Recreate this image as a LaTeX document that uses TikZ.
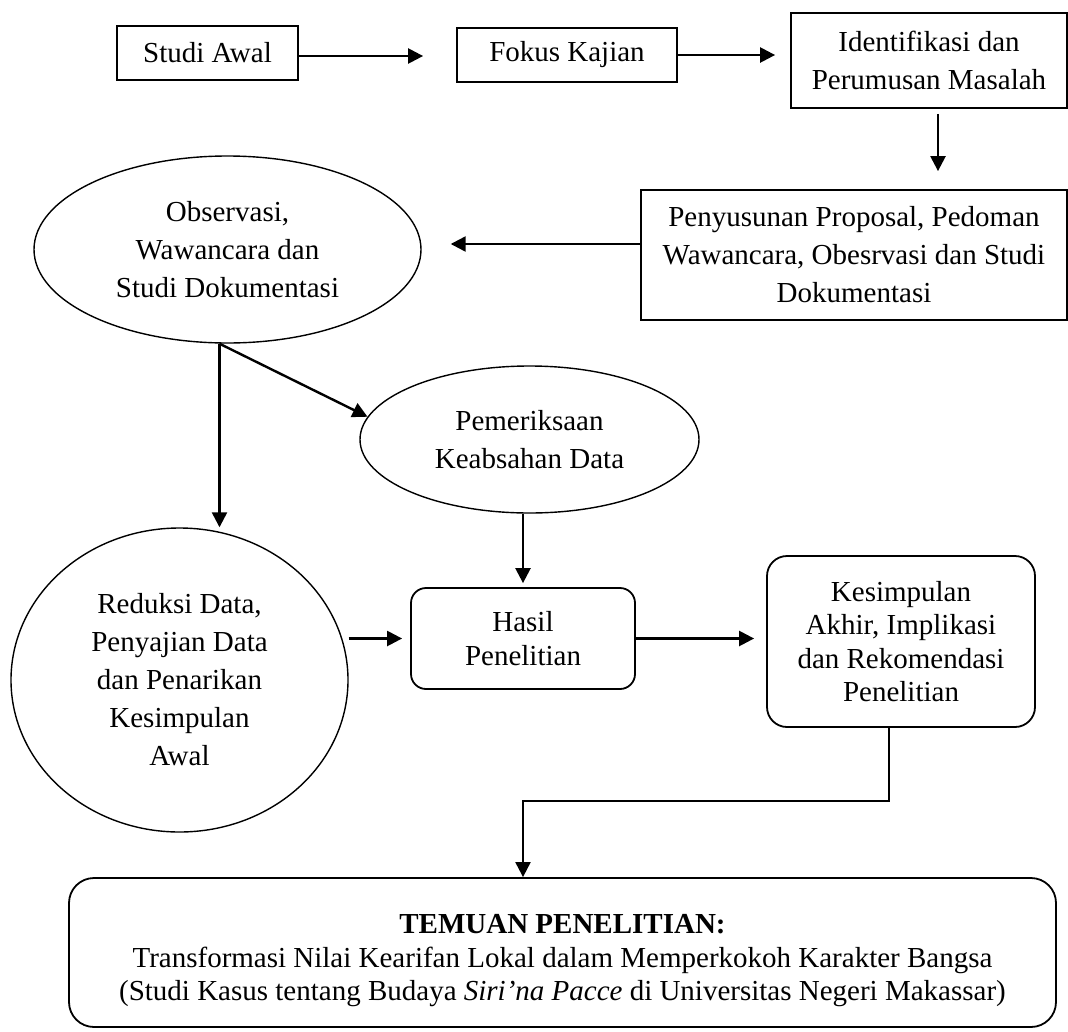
\documentclass[tikz,border=0pt]{standalone}
\usepackage{fontspec}
\setmainfont{Liberation Serif}
\usetikzlibrary{shapes,arrows.meta,calc}

\begin{document}
\begin{tikzpicture} [x=1pt, y=-1pt,
				plain/.style={
				% The shape:
				rectangle,
				% The size:
      				inner sep=0pt,
				% The border:
      				line width=1.8pt,
     				 draw=black,
				% Font
				font=\fontsize{29}{38}\selectfont
    				},
				soft/.style={
				% The shape:
				rectangle, rounded corners=15pt,
				% The size:
      				inner sep=0pt,
				% The border:
      				line width=1.8pt,draw=black,
				% Font
				font=\fontsize{29}{33.4}\selectfont
    				},
				oval/.style={
				% The shape:
				ellipse,
				% The size:
      				inner sep=0pt,
				% The border:
      				line width=1.4pt,draw=black,
				% Font
				font=\fontsize{29}{38}\selectfont
    				},
				link/.style={
				line width=2.4pt,
				-{Triangle[length=15pt,width=15pt]}
    				},
				]
    \tikzstyle{every node} = [align=center]
    \useasboundingbox (0,0) rectangle (1068,1031);
    % top row
    \node [plain, minimum width=181pt, minimum height=54pt] (studi) at (207.5,53) {Studi Awal};
    \node [plain, minimum width=220pt, minimum height=54pt] (fokus) at (567,55) {Fokus Kajian};
    \node [plain, minimum width=276pt, minimum height=95pt] (ident) at (929,60.5) {Identifikasi dan\\Perumusan Masalah};
    % second row
    \node [plain, minimum width=426pt, minimum height=130pt] (penyus) at (854,255) {Penyusunan Proposal, Pedoman\\Wawancara, Obesrvasi dan Studi\\Dokumentasi};
    \node [oval, minimum width=387pt, minimum height=187pt] (obs) at (227.5,249.5) {Observasi,\\Wawancara dan\\Studi Dokumentasi};
    \node [oval, minimum width=339pt, minimum height=147pt] (perik) at (529.5,439.5) {Pemeriksaan\\Keabsahan Data};
    % third row
    \node [oval, minimum width=337pt, minimum height=304pt] (reduksi) at (179.5,680) {Reduksi Data,\\Penyajian Data\\dan Penarikan\\Kesimpulan\\Awal};
    \node [soft, minimum width=224pt, minimum height=101pt] (hasil) at (523,638.5) {Hasil\\Penelitian};
    \node [soft, rounded corners=20pt, minimum width=268pt, minimum height=171pt] (kesimp) at (901,641.5) {Kesimpulan\\Akhir, Implikasi\\dan Rekomendasi\\Penelitian};
    % findings
    \node [soft, rounded corners=25pt, minimum width=987pt, minimum height=149pt] (temuan) at (562.5,952.5) {\rule{0pt}{36pt}\textbf{TEMUAN PENELITIAN:}\\Transformasi Nilai Kearifan Lokal dalam Memperkokoh Karakter Bangsa\\(Studi Kasus tentang Budaya \textit{Siri’na Pacce} di Universitas Negeri Makassar)};

    \coordinate (d1) at ($(ident.south)+(9,0)$);
    \coordinate (d2) at ($(penyus.west)+(0,-11)$);
    \coordinate (split) at ($(obs.south)+(-8,0)$);

    \draw [link, shorten >=33pt] ([yshift=-3pt]studi.east) -- ([yshift=-3pt]studi.east -| fokus.west);
    \draw [link, shorten >=15pt] (fokus.east) -- (fokus.east -| ident.west);
    \draw [link, shorten <=5pt, shorten >=18pt] (d1) -- (d1 |- penyus.north);
    \draw [link, shorten >=29pt] (d2) -- (d2 -| obs.east);
    \draw [link] (split) -- (split |- reduksi.north);
    \draw [link] (split) -- (perik.172);
    \draw [link, shorten >=4pt] (hasil.north |- perik.south) -- (hasil.north);
    \draw [link, shorten >=8pt] (reduksi.east |- hasil.west) -- (hasil.west);
    \draw [link, shorten >=12pt] (hasil.east) -- (hasil.east -| kesimp.west);
    \draw [link, line width=2pt] ($(kesimp.south)+(-12,0)$) -- ++(0,73) -| ($(temuan.north)+(-39.5,0)$);
\end{tikzpicture}
\end{document}
